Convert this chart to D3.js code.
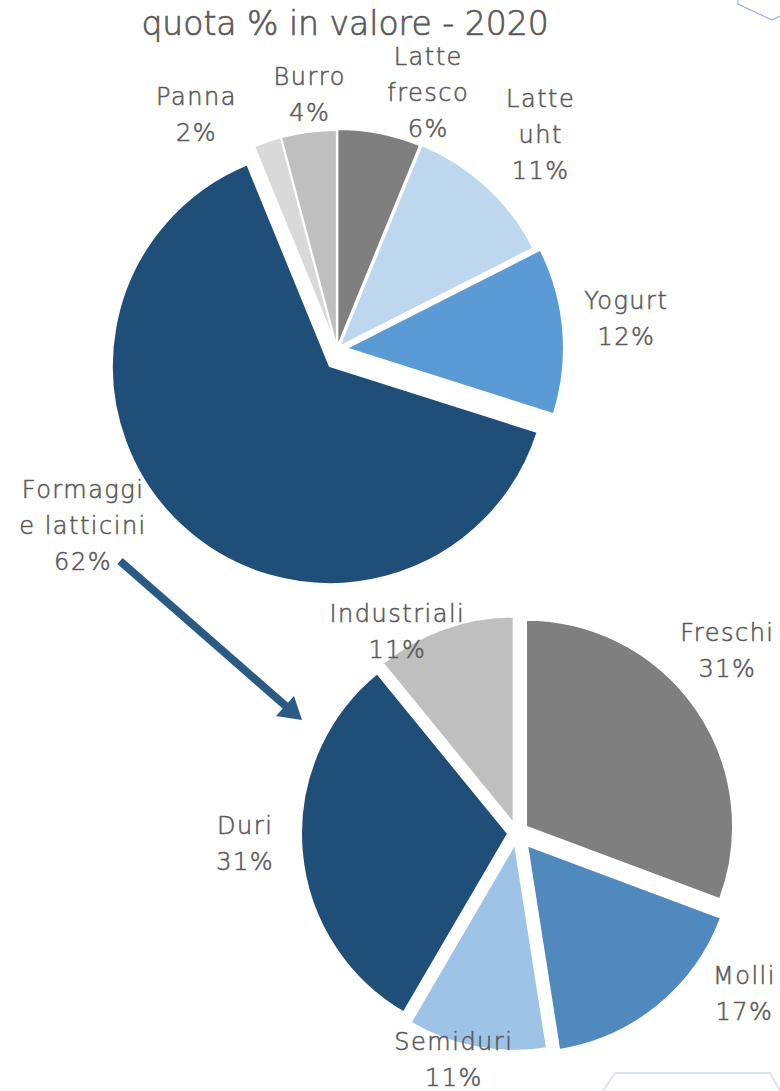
<!DOCTYPE html>
<html><head><meta charset="utf-8">
<script src="https://cdn.jsdelivr.net/npm/d3@7"></script>
<style>
body{margin:0;background:#fff;}
svg{display:block;}
text{font-family:"DejaVu Sans",sans-serif;fill:#595959;font-weight:200;stroke:#595959;stroke-width:0.55px;}
</style>
</head><body>
<svg id="chart" width="780" height="1091"></svg>
<script>
// ---------- data ----------
const titleText = "quota % in valore - 2020";

const topCategories = [["Latte","fresco"],["Latte","uht"],["Yogurt"],["Formaggi","e latticini"],["Panna"],["Burro"]];
const topValues = [6, 11, 12, 62, 2, 4];

const subCategories = [["Freschi"],["Molli"],["Semiduri"],["Duri"],["Industriali"]];
const subValues = [31, 17, 11, 31, 11];

// ---------- style / layout ----------
const topColors = ["#7f7f7f","#bdd7ee","#5b9bd5","#1f4e79","#d9d9d9","#bfbfbf"];
const topExplode = [2, 3, 9, 18.5, 1, 1];
const topExplodeTurn = [0, 0, 0, -20, 0, 0];
const topLabelPolar = [[273, 8.4],[296, 0.8],[291, -1.5],[309, 12.6],[274, -12.3],[256, 1.3]];

const subColors = ["#7f7f7f","#4f89bd","#9dc3e6","#1f4e79","#bfbfbf"];
const subExplode = [11, 16, 11, 9, 10];
const subExplodeTurn = [0, 0, 0, 0, 0];
const subLabelPolar = [[279, -6.3],[278, -15.7],[235, 4.9],[272, 2.3],[235, -11]];

const svg = d3.select("#chart");

// decorative outlines
svg.append("polyline").attr("points","738,0 738,4 772,20 780,16")
  .attr("fill","none").attr("stroke","#9fb6e0").attr("stroke-width",1.2);
svg.append("polyline").attr("points","603,1091 615,1073 770,1073 780,1091")
  .attr("fill","none").attr("stroke","#dbe3f1").attr("stroke-width",2);

// title
svg.append("text").attr("x",345).attr("y",35).attr("text-anchor","middle")
  .style("font-size","33px").style("stroke-width","0.7px").text(titleText);

function drawPie(values, cats, colors, explode, turn, labelPolar, cx, cy, r) {
  const pie = d3.pie().sort(null).value(d => d);
  const arcs = pie(values);
  const arc = d3.arc().innerRadius(0).outerRadius(r);
  const g = svg.append("g").attr("transform", `translate(${cx},${cy})`);
  g.selectAll("path").data(arcs).join("path")
    .attr("d", arc)
    .attr("fill", (d,i) => colors[i])
    .attr("stroke", "#fff").attr("stroke-width", 2).attr("stroke-linejoin","round")
    .attr("transform", (d,i) => {
      const m = (d.startAngle + d.endAngle)/2 + turn[i]*Math.PI/180;
      return `translate(${explode[i]*Math.sin(m)},${-explode[i]*Math.cos(m)})`;
    });
  const lh = 36;
  arcs.forEach((d,i) => {
    const m = (d.startAngle + d.endAngle)/2 + labelPolar[i][1]*Math.PI/180;
    const lx = labelPolar[i][0]*Math.sin(m);
    const ly = -labelPolar[i][0]*Math.cos(m);
    const lines = cats[i].concat([Math.round(values[i]) + "%"]);
    const first = ly + 9 - (lines.length-1)*lh/2;
    const t = g.append("text").attr("text-anchor","middle")
      .style("font-size","24px").style("letter-spacing","1.5px");
    lines.forEach((s,k) => t.append("tspan").attr("x", lx).attr("y", first + k*lh).text(s));
  });
}

drawPie(topValues, topCategories, topColors, topExplode, topExplodeTurn, topLabelPolar, 337, 349, 218);
drawPie(subValues, subCategories, subColors, subExplode, subExplodeTurn, subLabelPolar, 517, 833, 207);

// arrow
svg.append("line").attr("x1",120).attr("y1",561).attr("x2",288).attr("y2",708)
  .attr("stroke","#2a5b84").attr("stroke-width",8);
svg.append("polygon").attr("points","302,720 276,716 294,696").attr("fill","#2a5b84");
</script>
</body></html>
